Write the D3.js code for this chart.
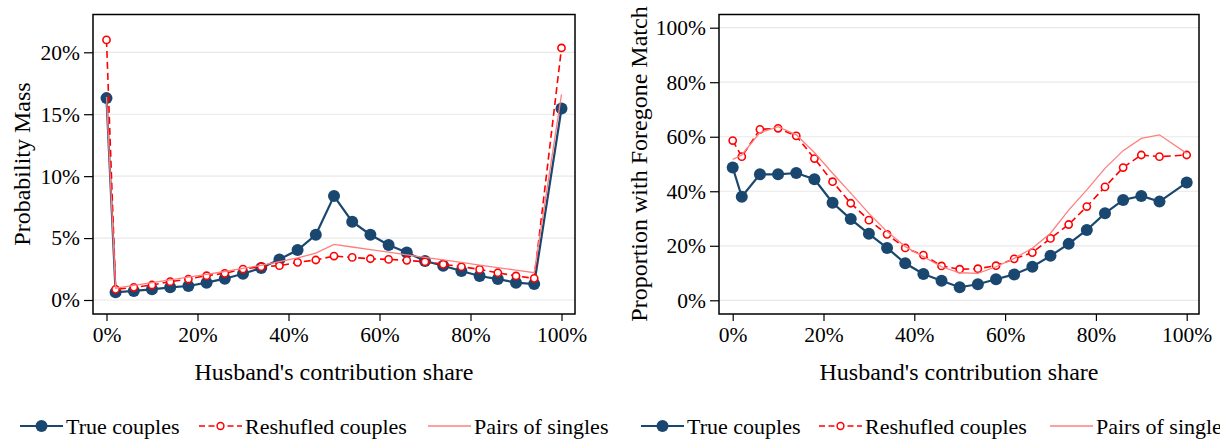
<!DOCTYPE html>
<html>
<head>
<meta charset="utf-8">
<script src="https://cdn.jsdelivr.net/npm/d3@7"></script>
<style>
  html, body { margin: 0; padding: 0; background: #fff; }
  svg, svg text { font-family: "Liberation Serif", "Times New Roman", serif !important; }
  svg { display: block; }
</style>
</head>
<body>
<svg id="chart" width="1220" height="440"></svg>
<script>
// Husband's contribution share (bins, %)
const shares = [0, 2, 6, 10, 14, 18, 22, 26, 30, 34, 38, 42, 46, 50, 54, 58, 62, 66, 70, 74, 78, 82, 86, 90, 94, 100];

// Left panel: probability mass (%)
const massTrue = [16.3, 0.62, 0.73, 0.86, 1.02, 1.13, 1.40, 1.72, 2.12, 2.58, 3.28, 4.03, 5.27, 8.39,
                  6.32, 5.27, 4.44, 3.84, 3.15, 2.77, 2.34, 1.94, 1.69, 1.40, 1.29, 15.46];
const massReshuffled = [21.0, 0.86, 1.02, 1.21, 1.48, 1.69, 1.96, 2.15, 2.50, 2.69, 2.77, 3.04, 3.23, 3.55,
                        3.44, 3.33, 3.28, 3.20, 3.09, 2.88, 2.69, 2.47, 2.20, 1.94, 1.75, 20.35];
const massSingles = [16.4, 0.95, 1.18, 1.40, 1.62, 1.85, 2.07, 2.30, 2.55, 2.80, 3.10, 3.40, 3.78, 4.49,
                     4.28, 4.07, 3.86, 3.65, 3.45, 3.24, 3.03, 2.82, 2.62, 2.41, 2.20, 16.6];

// Right panel: proportion with foregone match (%)
const foregoneTrue = [48.7, 38.0, 46.2, 46.2, 46.7, 44.4, 35.8, 29.8, 24.4, 19.2, 13.6, 9.65, 7.2, 4.8,
                      5.9, 7.7, 9.5, 12.3, 16.3, 20.7, 25.8, 31.9, 36.8, 38.3, 36.2, 43.2];
const foregoneReshuffled = [58.6, 52.7, 62.7, 63.1, 60.3, 52.0, 43.5, 35.6, 29.4, 24.2, 19.2, 16.6, 12.6, 11.4,
                            11.6, 12.7, 15.2, 17.5, 22.7, 27.8, 34.4, 41.6, 48.7, 53.3, 52.7, 53.3];
const foregoneSingles = [51.7, 53.3, 61.5, 63.7, 60.7, 54.2, 46.6, 39.3, 31.9, 25.2, 19.7, 16.0, 12.3, 10.1,
                         9.9, 12.3, 15.4, 19.1, 24.6, 33.1, 40.5, 48.4, 54.9, 59.4, 60.7, 53.9];

// Tick values
const xTicks = [0, 20, 40, 60, 80, 100];
const yTicksLeft = [0, 5, 10, 15, 20];
const yTicksRight = [0, 20, 40, 60, 80, 100];

const seriesNames = ["True couples", "Reshufled couples", "Pairs of singles"];

const NAVY = "#1a476f";
const RED = "#ff0000";
const PINK = "#ff7f7f";
const SERIF = "'Liberation Serif', 'Times New Roman', serif";

const svg = d3.select("#chart");

function panel(cfg) {
  const g = svg.append("g");
  const x = d3.scaleLinear().domain([0, 100]).range(cfg.xRange);
  const y = d3.scaleLinear().domain(cfg.yDomain).range(cfg.yRange);
  const box = cfg.box;

  // gridlines
  g.append("g").selectAll("line").data(cfg.yTicks).join("line")
    .attr("x1", box.x0).attr("x2", box.x1)
    .attr("y1", d => y(d)).attr("y2", d => y(d))
    .attr("stroke", "#e8e8e8").attr("stroke-width", 1.2);

  // axes
  const ya = g.append("g").attr("transform", `translate(${box.x0},0)`)
    .call(d3.axisLeft(y).tickValues(cfg.yTicks).tickFormat(d => d + "%").tickSize(9).tickPadding(4));
  ya.attr("font-family", null).attr("font-size", null);
  ya.select(".domain").remove();
  ya.selectAll(".tick line").attr("stroke", "#000").attr("stroke-width", 1.2);
  ya.selectAll(".tick text").style("font-size", cfg.tickSize + "px").attr("fill", "#000")
    .style("font-family", SERIF);

  const xa = g.append("g").attr("transform", `translate(0,${box.y1})`)
    .call(d3.axisBottom(x).tickValues(xTicks).tickFormat(d => d + "%").tickSize(7).tickPadding(6));
  xa.attr("font-family", null).attr("font-size", null);
  xa.select(".domain").remove();
  xa.selectAll(".tick line").attr("stroke", "#000").attr("stroke-width", 1.2);
  xa.selectAll(".tick text").style("font-size", cfg.tickSize + "px").attr("fill", "#000")
    .style("font-family", SERIF);

  // frame
  g.append("rect")
    .attr("x", box.x0).attr("y", box.y0)
    .attr("width", box.x1 - box.x0).attr("height", box.y1 - box.y0)
    .attr("fill", "none").attr("stroke", "#000").attr("stroke-width", 1.5);

  // titles
  g.append("text")
    .attr("x", (box.x0 + box.x1) / 2).attr("y", 380)
    .attr("text-anchor", "middle").style("font-size", "24px").attr("fill", "#000")
    .text("Husband's contribution share");
  g.append("text")
    .attr("transform", `translate(${cfg.yTitleX},${cfg.yTitleY}) rotate(-90)`)
    .attr("text-anchor", "middle").style("font-size", "24px").attr("fill", "#000")
    .text(cfg.yTitle);

  const line = d3.line().x((d, i) => x(shares[i])).y(d => y(d));

  // true couples
  g.append("path").datum(cfg.trueVals).attr("d", line)
    .attr("fill", "none").attr("stroke", NAVY).attr("stroke-width", 2.2);
  g.append("g").selectAll("circle").data(cfg.trueVals).join("circle")
    .attr("cx", (d, i) => x(shares[i])).attr("cy", d => y(d)).attr("r", 6)
    .attr("fill", NAVY);

  // reshuffled couples
  g.append("path").datum(cfg.reshVals).attr("d", line)
    .attr("fill", "none").attr("stroke", RED).attr("stroke-width", 1.6)
    .attr("stroke-dasharray", "7,4");
  g.append("g").selectAll("circle").data(cfg.reshVals).join("circle")
    .attr("cx", (d, i) => x(shares[i])).attr("cy", d => y(d)).attr("r", 3.6)
    .attr("fill", "#fff").attr("stroke", RED).attr("stroke-width", 1.6);

  // pairs of singles
  g.append("path").datum(cfg.singleVals).attr("d", line)
    .attr("fill", "none").attr("stroke", PINK).attr("stroke-width", 1.3);

  // legend
  const lg = g.append("g").attr("transform", `translate(${cfg.legendX},426)`);
  const L = cfg.legendLine;
  cfg.legendOffsets.forEach((dx, k) => {
    const ig = lg.append("g").attr("transform", `translate(${dx},0)`);
    if (k === 0) {
      ig.append("line").attr("x1", 0).attr("x2", L).attr("stroke", NAVY).attr("stroke-width", 2.2);
      ig.append("circle").attr("cx", L / 2).attr("r", 6).attr("fill", NAVY);
    } else if (k === 1) {
      ig.append("line").attr("x1", 0).attr("x2", L).attr("stroke", RED).attr("stroke-width", 1.6)
        .attr("stroke-dasharray", "6,3.5");
      ig.append("circle").attr("cx", L / 2).attr("r", 3.4).attr("fill", "#fff")
        .attr("stroke", RED).attr("stroke-width", 1.5);
    } else {
      ig.append("line").attr("x1", 0).attr("x2", L).attr("stroke", PINK).attr("stroke-width", 1.3);
    }
    ig.append("text").attr("x", L + 3).attr("y", 7.5).style("font-size", cfg.legendSize + "px")
      .attr("fill", "#000").text(seriesNames[k]);
  });
}

panel({
  xRange: [106.5, 561.5],
  yDomain: [0, 20], yRange: [300, 52.3],
  yTicks: yTicksLeft,
  box: { x0: 93, x1: 575, y0: 14.5, y1: 314 },
  yTitle: "Probability Mass", yTitleX: 30, yTitleY: 164,
  tickSize: 21.5,
  trueVals: massTrue, reshVals: massReshuffled, singleVals: massSingles,
  legendX: 20, legendOffsets: [0, 179, 408], legendLine: 43, legendSize: 22
});

panel({
  xRange: [732.7, 1186.7],
  yDomain: [0, 100], yRange: [300.3, 27.7],
  yTicks: yTicksRight,
  box: { x0: 719, x1: 1199, y0: 14.5, y1: 314 },
  yTitle: "Proportion with Foregone Match", yTitleX: 647, yTitleY: 164,
  tickSize: 21.5,
  trueVals: foregoneTrue, reshVals: foregoneReshuffled, singleVals: foregoneSingles,
  legendX: 641, legendOffsets: [0, 178, 409], legendLine: 43, legendSize: 22
});
</script>
</body>
</html>
